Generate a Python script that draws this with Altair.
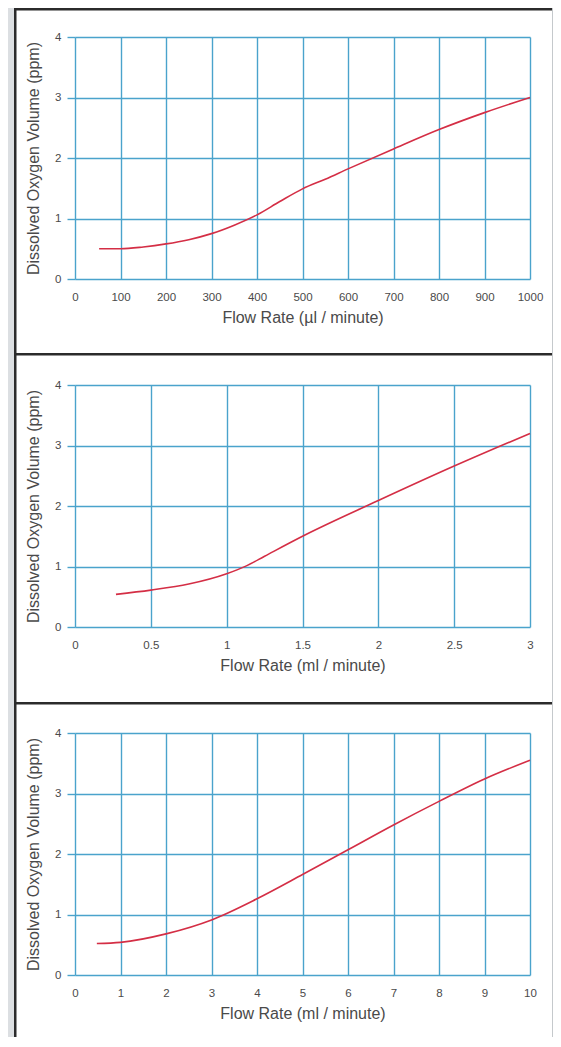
import altair as alt
import pandas as pd

# ---------------- data ----------------
Y_TICKS = [0, 1, 2, 3, 4]
Y_TITLE = "Dissolved Oxygen Volume (ppm)"

P1_FLOW = [53, 100, 150, 200, 250, 300, 350, 400, 450, 500, 550, 600, 700, 800, 900, 1000]
P1_OXY = [0.50, 0.50, 0.53, 0.58, 0.65, 0.75, 0.89, 1.06, 1.28, 1.49, 1.65, 1.82, 2.15, 2.47, 2.75, 3.00]
P1_TICKS = [0, 100, 200, 300, 400, 500, 600, 700, 800, 900, 1000]
P1_TITLE = "Flow Rate (µl / minute)"

P2_FLOW = [0.27, 0.5, 0.75, 1.0, 1.13, 1.25, 1.5, 2.0, 2.5, 3.0]
P2_OXY = [0.54, 0.61, 0.71, 0.88, 1.01, 1.17, 1.50, 2.09, 2.66, 3.20]
P2_TICKS = [0, 0.5, 1, 1.5, 2, 2.5, 3]
P2_TITLE = "Flow Rate (ml / minute)"

P3_FLOW = [0.48, 1, 2, 3, 4, 5, 6, 7, 8, 9, 10]
P3_OXY = [0.52, 0.54, 0.68, 0.91, 1.26, 1.66, 2.07, 2.48, 2.87, 3.24, 3.55]
P3_TICKS = [0, 1, 2, 3, 4, 5, 6, 7, 8, 9, 10]
P3_TITLE = "Flow Rate (ml / minute)"

# ---------------- styling ----------------
W, H = 455, 242
GRID = "#4aa3cc"
CURVE = "#d42e45"
FRAME = "#2b2b2b"
SIDE = "#dcdfe2"
EDGE = "#c5c9cc"
TEXT = "#4a4a4a"
FONT = "Liberation Sans"


def panel(xs, ys, ticks, xtitle, top, bottom):
    df = pd.DataFrame({"flow": xs, "oxygen": ys})
    deco = alt.Chart(pd.DataFrame({"k": [0]}))
    strip = deco.mark_rect(color=SIDE).encode(
        x=alt.value(-67), x2=alt.value(-61), y=alt.value(-top), y2=alt.value(H + bottom)
    )
    left = deco.mark_rect(color=FRAME).encode(
        x=alt.value(-61), x2=alt.value(-58.5), y=alt.value(-top), y2=alt.value(H + bottom)
    )
    topline = deco.mark_rect(color=FRAME).encode(
        x=alt.value(-61), x2=alt.value(W + 22), y=alt.value(-top), y2=alt.value(-top + 2.5)
    )
    right = deco.mark_rect(color=EDGE).encode(
        x=alt.value(W + 22), x2=alt.value(W + 23), y=alt.value(-top), y2=alt.value(H + bottom)
    )
    line = alt.Chart(df).mark_line(color=CURVE, strokeWidth=1.6, interpolate="monotone").encode(
        x=alt.X(
            "flow:Q",
            scale=alt.Scale(domain=[0, ticks[-1]], nice=False, zero=True),
            axis=alt.Axis(
                values=ticks, title=xtitle, format="~r", grid=True, domain=False,
                ticks=False, labelPadding=12, titlePadding=7, labelFlush=False,
            ),
        ),
        y=alt.Y(
            "oxygen:Q",
            scale=alt.Scale(domain=[0, 4], nice=False),
            axis=alt.Axis(
                values=Y_TICKS, title=Y_TITLE, grid=True, domain=False,
                ticks=True, tickSize=8, tickColor=GRID, tickWidth=1.4,
                labelPadding=6, titlePadding=13, labelFlush=False,
            ),
        ),
    )
    return alt.layer(strip, left, topline, right, line).properties(width=W, height=H)


chart = alt.vconcat(
    panel(P1_FLOW, P1_OXY, P1_TICKS, P1_TITLE, 29, 74),
    panel(P2_FLOW, P2_OXY, P2_TICKS, P2_TITLE, 32, 75),
    panel(P3_FLOW, P3_OXY, P3_TICKS, P3_TITLE, 31, 62),
    spacing=0,
).properties(
    padding=0, background="white"
).configure_view(
    strokeWidth=0
).configure_axis(
    gridColor=GRID, gridWidth=1.4, gridOpacity=1,
    labelFont=FONT, titleFont=FONT, labelColor=TEXT, titleColor=TEXT,
    labelFontSize=11.5, titleFontSize=16, titleFontWeight="normal",
)

chart.save("out.html", embed_options={"renderer": "svg", "actions": False})
